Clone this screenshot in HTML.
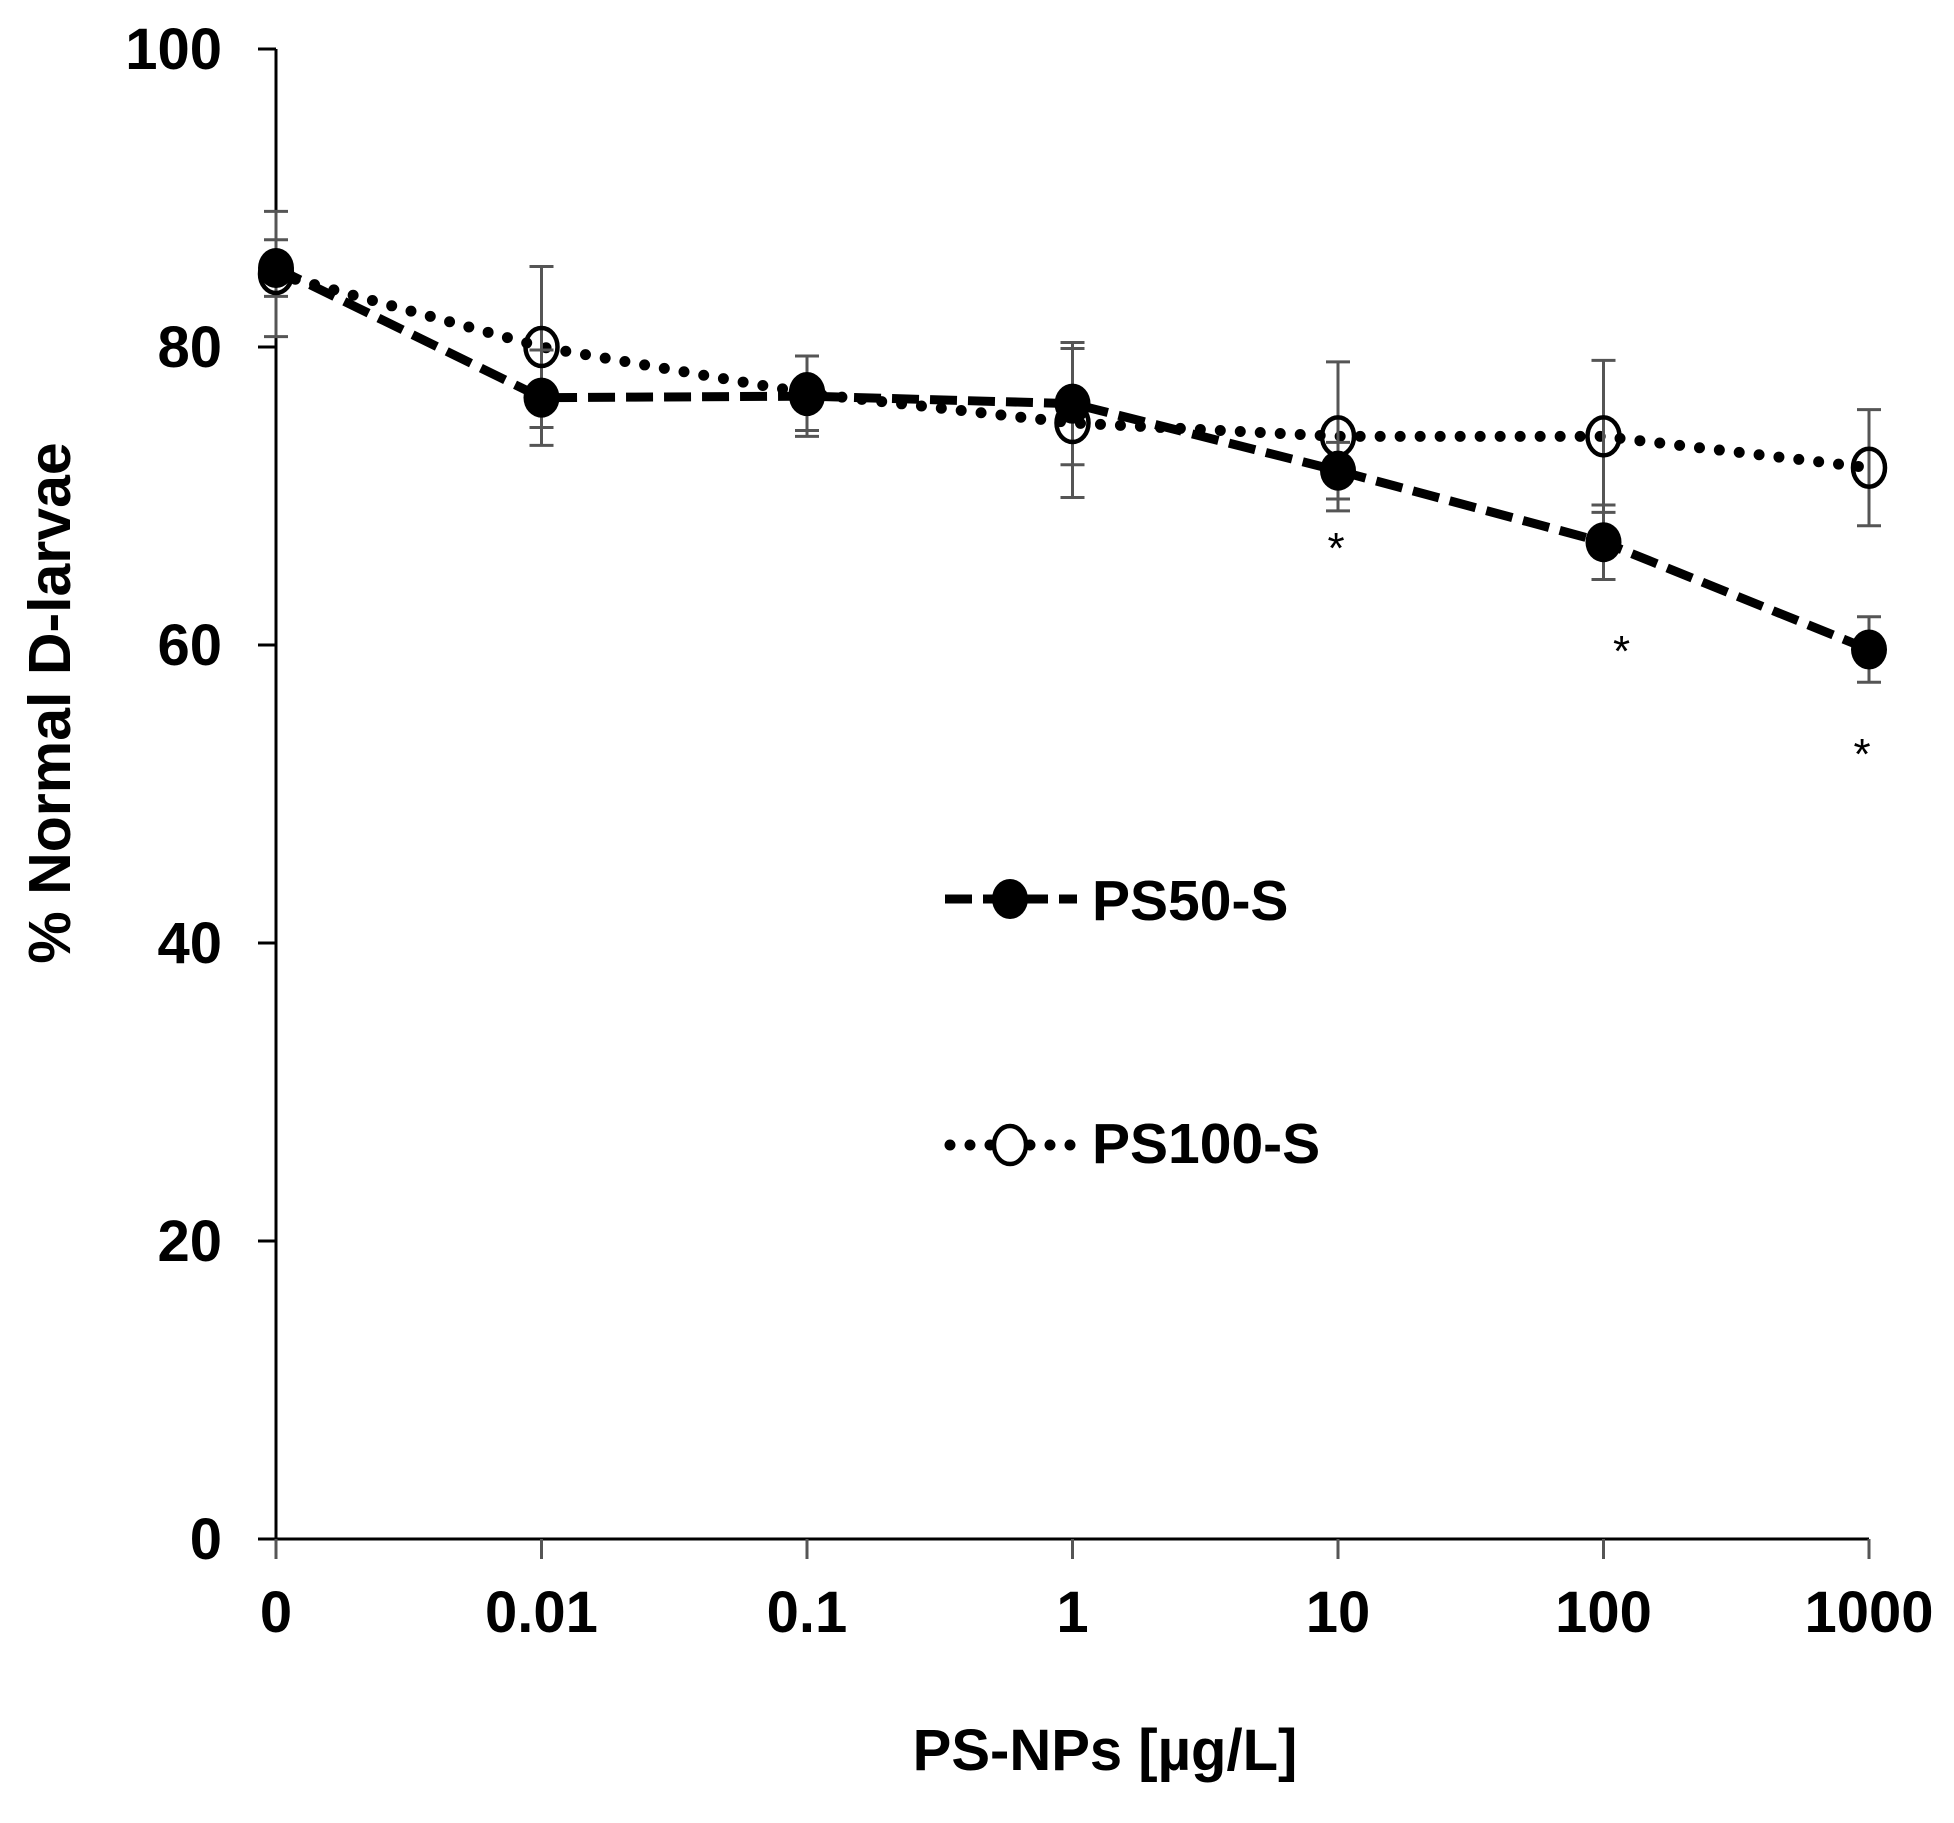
<!DOCTYPE html>
<html><head><meta charset="utf-8"><style>
html,body{margin:0;padding:0;background:#fff;}
svg text{font-family:"Liberation Sans",Arial,sans-serif;font-weight:bold;fill:#000;}
</style></head><body>
<svg id="chart" width="1954" height="1818" viewBox="0 0 1954 1818" xmlns="http://www.w3.org/2000/svg">
<rect width="1954" height="1818" fill="#fff"/>
<g id="axes"></g>
<g id="plot"></g>
<text x="1105" y="1770" font-size="58" text-anchor="middle">PS-NPs [µg/L]</text>
<text transform="translate(70,703) rotate(-90)" font-size="59" text-anchor="middle">% Normal D-larvae</text>
<g>
  <g>
    <line x1="945" y1="899" x2="1077" y2="899" stroke="#000" stroke-width="9" stroke-dasharray="27,11"/>
    <ellipse cx="1010" cy="899" rx="18" ry="20" fill="#000"/>
    <text x="1092" y="920" font-size="57">PS50-S</text>
  </g>
  <g>
    <line x1="950" y1="1145" x2="1077" y2="1145" stroke="#000" stroke-width="11" stroke-linecap="round" stroke-dasharray="0,20"/>
    <ellipse cx="1010" cy="1145" rx="16" ry="19" fill="#fff" stroke="#000" stroke-width="4.5"/>
    <text x="1092" y="1163" font-size="57">PS100-S</text>
  </g>
</g>
</svg>
<script>
const categories = ["0","0.01","0.1","1","10","100","1000"];
const yTicks = [0,20,40,60,80,100];
const ps50Values = [85.3,76.6,76.7,76.2,71.7,66.9,59.7];
const ps50Errors = [1.9,3.2,2.7,4.1,1.9,2.5,2.2];
const ps100Values = [84.9,80.0,76.9,74.9,74.0,74.0,71.9];
const ps100Errors = [4.2,5.4,2.5,5.0,5.0,5.1,3.9];
const significant = [false,false,false,false,true,true,true];
const sigAsteriskValue = [null,null,null,null,67.1,60.2,53.3];

const NS="http://www.w3.org/2000/svg";
const X0=276, DX=265.5, Y0=1539, Y100=49;
function xPos(i){return X0+i*DX;}
function yPos(v){return Y0-(Y0-Y100)*v/100;}
function mk(tag,attrs,parent){const e=document.createElementNS(NS,tag);for(const k in attrs)e.setAttribute(k,attrs[k]);parent.appendChild(e);return e;}
const axes=document.getElementById('axes'), plot=document.getElementById('plot');

let e;
e=mk('line',{x1:X0,y1:Y100,x2:X0,y2:Y0,stroke:'#000','stroke-width':3},axes);


e=mk('line',{x1:X0-18,y1:Y0,x2:xPos(6),y2:Y0,stroke:'#000','stroke-width':3},axes);


yTicks.forEach(t=>{
  const y=yPos(t);
  let l=mk('line',{x1:X0-18,y1:y,x2:X0,y2:y,stroke:'#000','stroke-width':3},axes);
  
  
  let tx=mk('text',{x:222,y:y+20,'font-size':58,'text-anchor':'end'},axes);
  tx.textContent=t;
  
  
});
categories.forEach((c,i)=>{
  const x=xPos(i);
  let l=mk('line',{x1:x,y1:Y0,x2:x,y2:Y0+20,stroke:'#555','stroke-width':3},axes);
  
  
  let tx=mk('text',{x:x,y:1632,'font-size':58,'text-anchor':'middle'},axes);
  tx.textContent=c;
  
  
});
function pts(vals){return vals.map((v,i)=>xPos(i)+','+yPos(v)).join(' ');}
e=mk('polyline',{points:pts(ps100Values),fill:'none',stroke:'#000','stroke-width':11,'stroke-linecap':'round','stroke-dasharray':'0,20'},plot);


e=mk('polyline',{points:pts(ps50Values),fill:'none',stroke:'#000','stroke-width':9,'stroke-dasharray':'27,11'},plot);


function errs(vals,errsArr,name){
  vals.forEach((v,i)=>{
    const x=xPos(i), t=yPos(v+errsArr[i]), b=yPos(v-errsArr[i]);
    const g=mk('g',{stroke:'#555','stroke-width':3},plot);
    
    
    mk('line',{x1:x,y1:t,x2:x,y2:b},g);
    mk('line',{x1:x-12,y1:t,x2:x+12,y2:t},g);
    mk('line',{x1:x-12,y1:b,x2:x+12,y2:b},g);
  });
}
errs(ps100Values,ps100Errors,'ps100');
errs(ps50Values,ps50Errors,'ps50');
ps100Values.forEach((v,i)=>{
  const c=mk('ellipse',{cx:xPos(i),cy:yPos(v),rx:16,ry:19,fill:'none',stroke:'#000','stroke-width':4.5},plot);
  
  
});
ps50Values.forEach((v,i)=>{
  const c=mk('ellipse',{cx:xPos(i),cy:yPos(v),rx:18,ry:20,fill:'#000'},plot);
  
  
});
significant.forEach((s,i)=>{
  if(!s)return;
  const offs=[0,0,0,0,-2,18,-7];
  const a=mk('text',{x:xPos(i)+offs[i],y:yPos(sigAsteriskValue[i])+24,'font-size':44,'text-anchor':'middle',style:'font-weight:normal'},plot);
  a.textContent='*';
  
  
});
</script>
</body></html>
